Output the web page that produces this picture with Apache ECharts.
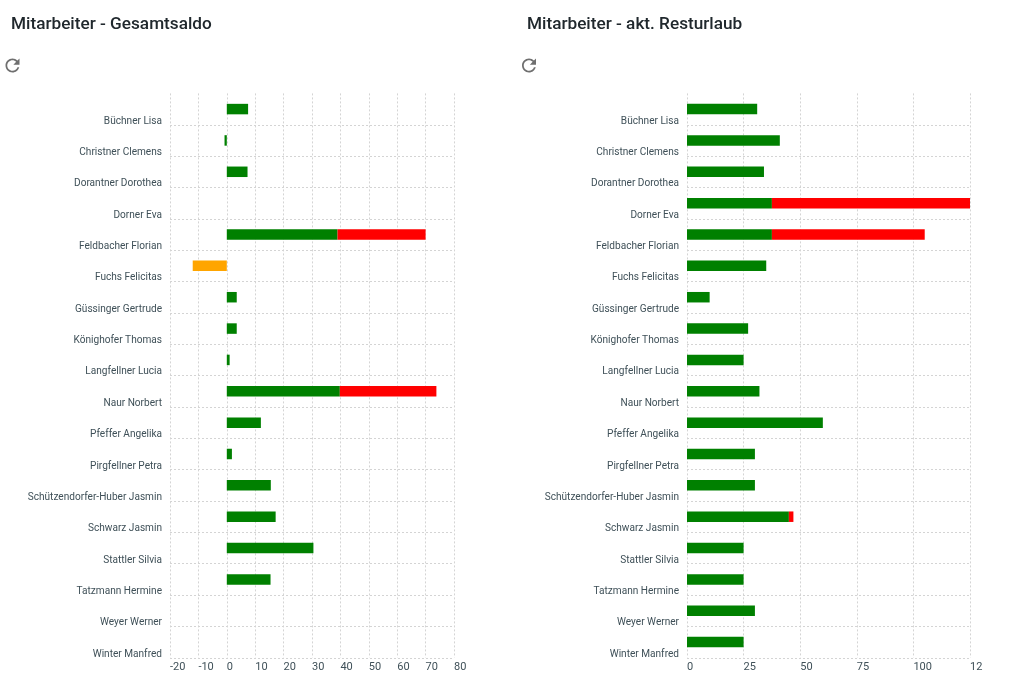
<!DOCTYPE html>
<html>
<head>
<meta charset="utf-8">
<title>Mitarbeiter</title>
<style>
    html, body { margin: 0; padding: 0; background: #fff; }
    #chart { width: 1009px; height: 692px; }
</style>
<script src="https://cdn.jsdelivr.net/npm/echarts@6/dist/echarts.min.js"></script>
</head>
<body>
<div id="chart"></div>
<script>
// Daten
const names = ['Büchner Lisa', 'Christner Clemens', 'Dorantner Dorothea', 'Dorner Eva', 'Feldbacher Florian', 'Fuchs Felicitas',
    'Güssinger Gertrude', 'Könighofer Thomas', 'Langfellner Lucia', 'Naur Norbert', 'Pfeffer Angelika', 'Pirgfellner Petra',
    'Schützendorfer-Huber Jasmin', 'Schwarz Jasmin', 'Stattler Silvia', 'Tatzmann Hermine', 'Weyer Werner', 'Winter Manfred'];

const saldoGreen = [7.5, -0.8, 7.3, null, 39, null, 3.5, 3.5, 1, 39.8, 12, 1.8, 15.5, 17.2, 30.5, 15.4, null, null];
const saldoRed = [null, null, null, null, 31, null, null, null, null, 34, null, null, null, null, null, null, null, null];
const saldoOrange = [null, null, null, null, null, -12, null, null, null, null, null, null, null, null, null, null, null, null];

const urlaubGreen = [31, 41, 34, 37.5, 37.5, 35, 10, 27, 25, 32, 60, 30, 30, 45, 25, 25, 30, 25];
const urlaubRed = [null, null, null, 87.5, 67.5, null, null, null, null, null, null, null, null, 2, null, null, null, null];
const urlaubOrange = [];

const saldoTicks = { min: -20, max: 80, interval: 10 };
const urlaubTicks = { min: 0, max: 125, interval: 25 };

const GREEN = '#008000', RED = '#ff0000', ORANGE = '#ffa500';
const REFRESH = 'M17.65 6.35C16.2 4.9 14.21 4 12 4c-4.42 0-7.99 3.58-7.99 8s3.57 8 7.99 8c3.73 0 6.84-2.55 7.73-6h-2.08c-.82 2.33-3.04 4-5.65 4-3.31 0-6-2.69-6-6s2.69-6 6-6c1.66 0 3.14.69 4.22 1.78L13 11h7V4l-2.35 2.35z';

const dotted = { color: '#d4d4d4', type: [2, 2], width: 1 };
const labelColor = '#3f5058';
const titleStyle = { fontFamily: 'Roboto', fontSize: 17.2, fontWeight: 500, color: '#20282d' };

echarts.graphic.registerShape('refreshIcon', echarts.graphic.extendPath(REFRESH, {}));

function makeSeries(index, green, red, orange) {
    const parts = [[green, GREEN], [red, RED], [orange, ORANGE]];
    return parts.map(([data, color]) => ({
        type: 'bar',
        stack: 'g' + index,
        xAxisIndex: index,
        yAxisIndex: index,
        data: data,
        barWidth: 10.5,
        itemStyle: { color: color }
    }));
}

function makeXAxis(index, ticks, formatter) {
    return {
        type: 'value',
        gridIndex: index,
        position: 'bottom',
        min: ticks.min,
        max: ticks.max,
        interval: ticks.interval,
        axisLine: { show: false },
        axisTick: { show: false },
        splitLine: { show: true, lineStyle: dotted },
        axisLabel: {
            color: labelColor,
            fontFamily: 'Roboto',
            fontSize: 11,
            align: 'left',
            margin: 4,
            formatter: formatter
        }
    };
}

function makeYAxis(index) {
    return {
        type: 'category',
        gridIndex: index,
        inverse: true,
        data: names,
        axisLine: { show: false },
        axisTick: { show: false },
        splitLine: { show: true, showMinLine: false, lineStyle: dotted },
        axisLabel: {
            color: labelColor,
            fontFamily: 'Roboto',
            fontSize: 10.1,
            margin: 8,
            interval: 0,
            verticalAlign: 'top',
            lineHeight: 24
        }
    };
}

function makeIcon(x) {
    return {
        type: 'refreshIcon',
        x: x,
        y: 55,
        scaleX: 0.875,
        scaleY: 0.875,
        style: { fill: '#6f6f6f' }
    };
}

const chart = echarts.init(document.getElementById('chart'));

chart.setOption({
    animation: false,
    backgroundColor: '#fff',
    title: [
        { text: 'Mitarbeiter - Gesamtsaldo', left: 11, top: 16, padding: 0, textStyle: titleStyle },
        { text: 'Mitarbeiter - akt. Resturlaub', left: 527, top: 16, padding: 0, textStyle: titleStyle }
    ],
    grid: [
        { left: 170, top: 93.4, width: 284, height: 564.4 },
        { left: 687, top: 93.4, width: 283, height: 564.4 }
    ],
    xAxis: [
        makeXAxis(0, saldoTicks),
        makeXAxis(1, urlaubTicks, v => (v === 125 ? '12' : String(v)))
    ],
    yAxis: [makeYAxis(0), makeYAxis(1)],
    series: makeSeries(0, saldoGreen, saldoRed, saldoOrange).concat(makeSeries(1, urlaubGreen, urlaubRed, urlaubOrange)),
    graphic: [makeIcon(2), makeIcon(518.5)]
});
</script>
</body>
</html>
